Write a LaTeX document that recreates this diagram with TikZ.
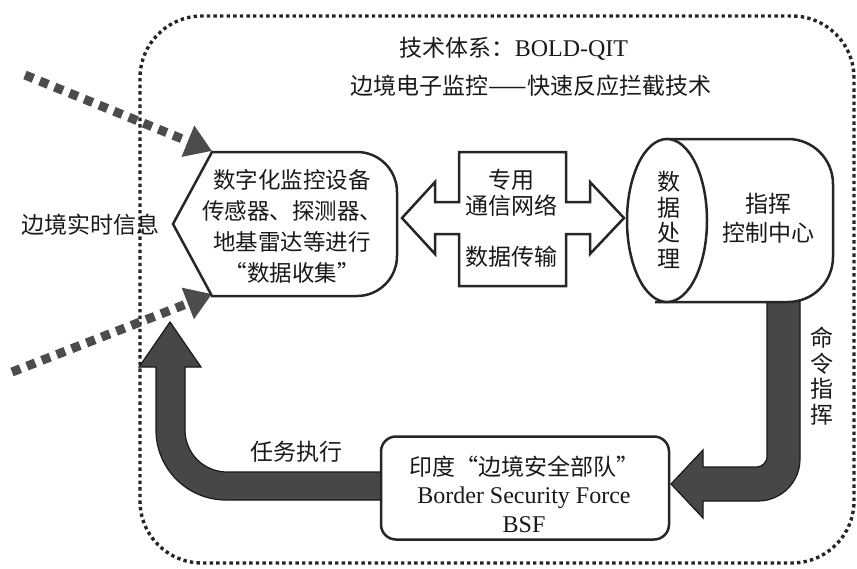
\documentclass[tikz,border=0pt]{standalone}
\usepackage{fontspec}
\setmainfont{Liberation Serif}
\newfontfamily\cjk{Noto Sans CJK SC}
\usetikzlibrary{arrows.meta}
\tikzset{
  outline/.style={draw=black!85, line width=2.5pt, fill=white},
  boxdots/.style={draw=black!85, line width=3.4pt, dash pattern=on 3.4pt off 3.2pt},
  feedarrow/.style={draw=black!70, line width=9pt, dash pattern=on 9pt off 7pt, -{Triangle[length=26pt,width=32pt]}},
  bigarrow/.style={fill=black!72, draw=black!90, line width=1.2pt},
  txt/.style={font=\cjk\fontsize{23}{31}\selectfont, align=center, inner sep=0pt, text=black!90},
  vtxt/.style={font=\cjk\fontsize{23}{25.5}\selectfont, align=center, inner sep=0pt, text=black!90},
}
\begin{document}
\begin{tikzpicture}[x=1pt,y=-1pt]
\useasboundingbox (0,0) rectangle (857,568);

% outer dotted frame
\draw[boxdots, rounded corners=62] (140,16) rectangle (854,563);

% title
\node[txt] (title1) at (514,49) {技术体系：{\rmfamily\fontsize{24}{30}\selectfont BOLD-QIT}};
\node[txt] (title2) at (531,86) {边境电子监控——快速反应拦截技术};

% left label
\node[txt] (info) at (90,225) {边境实时信息};

% dotted input arrows
\coordinate (inA) at (25,75);
\coordinate (inB) at (12,372);
\coordinate (tipA) at (212,151);
\coordinate (tipB) at (212,294);
\draw[feedarrow] (inA) -- (tipA);
\draw[feedarrow] (inB) -- (tipB);

% big dark arrows (drawn before boxes)
\draw[bigarrow] (767,290) -- (800,290) -- (800,459) .. controls (800,482.2) and (781.2,501) .. (758,501)
  -- (703,501) -- (703,518) -- (671,484) -- (703,450) -- (703,467) -- (757,467)
  .. controls (762.5,467) and (767,461.5) .. (767,457) -- cycle;
\draw[bigarrow] (395,472) -- (227,472) .. controls (203.8,472) and (185,453.2) .. (185,430)
  -- (185,367) -- (201,367) -- (170,322) -- (139,367) -- (156,367) -- (156,430)
  .. controls (156,468.7) and (187.3,500) .. (226,500) -- (395,500) -- cycle;

% data collection node
\draw[outline] (300,152) [rounded corners=40] -- (397,152) -- (397,296) -- (300,296) [sharp corners] -- (212,296) -- (173,224) -- (212,152) -- cycle;
\node[txt, font=\cjk\fontsize{22.5}{31}\selectfont] (collect) at (292,226) {数字化监控设备\\传感器、探测器、\\地基雷达等进行\\“数据收集”};

% double arrow: network
\draw[outline] (402,218) -- (435,182) -- (435,202) -- (459,202) -- (459,152) -- (566,152) -- (566,202) -- (590,202) -- (590,182)
  -- (624,218) -- (590,254) -- (590,234) -- (566,234) -- (566,286) -- (459,286) -- (459,234) -- (435,234) -- (435,254) -- cycle;
\node[txt] (net1) at (511,180) {专用};
\node[txt] (net2) at (511,206) {通信网络};
\node[txt] (net3) at (511,257) {数据传输};

% command centre cylinder
\draw[outline] (667,139) -- (700,139) [rounded corners=45] -- (833,139) -- (833,302) -- (700,302) [sharp corners] -- (667,302) -- cycle;
\draw[outline] (667,220.5) ellipse [x radius=40, y radius=81.5];
\node[vtxt] (proc) at (669,220) {数\\据\\处\\理};
\node[txt, font=\cjk\fontsize{23}{29}\selectfont] (cmd) at (768,218) {指挥\\控制中心};

% command label
\node[vtxt] (order) at (822,376) {命\\令\\指\\挥};

% BSF box
\node[outline, rounded corners=15, minimum width=288pt, minimum height=103pt] (bsf) at (525,488) {};
\node[txt, font=\cjk\fontsize{23}{28.5}\selectfont] (bsftxt) at (524,494) {印度“边境安全部队”\\{\rmfamily\fontsize{24}{28.5}\selectfont Border Security Force}\\{\rmfamily\fontsize{24}{28.5}\selectfont BSF}};

% task label
\node[txt] (task) at (296,452) {任务执行};
\end{tikzpicture}
\end{document}
